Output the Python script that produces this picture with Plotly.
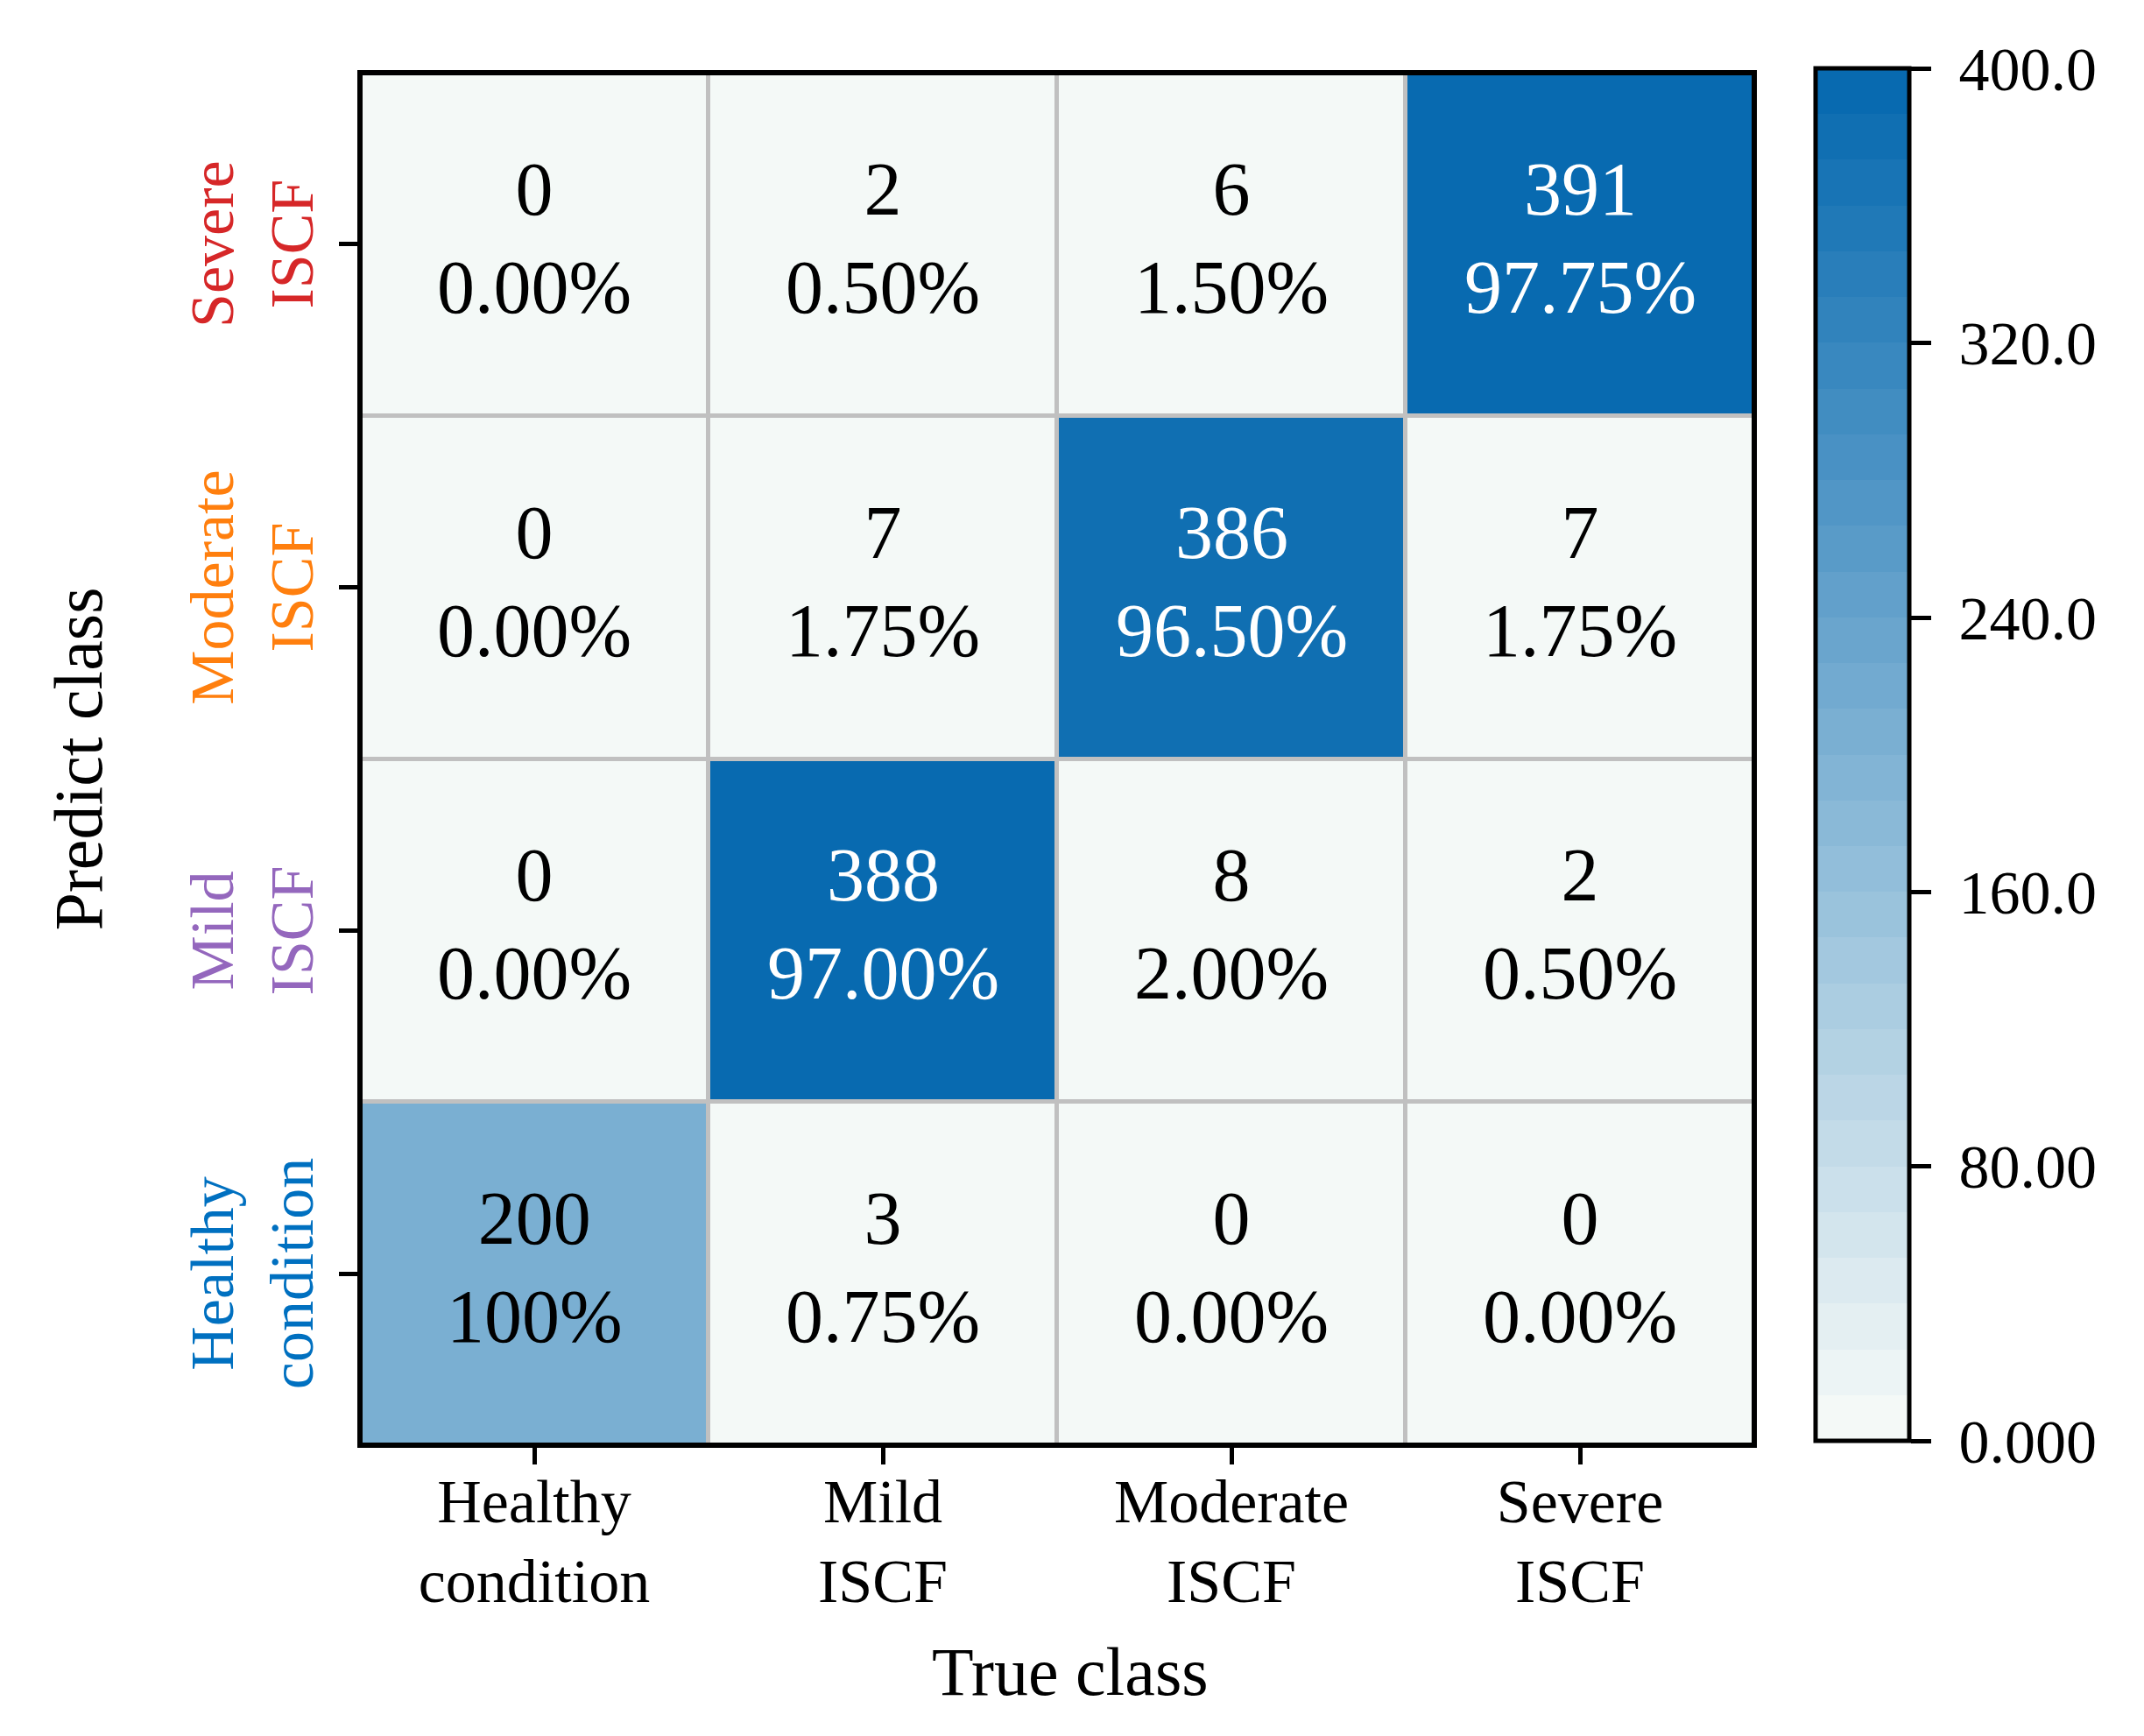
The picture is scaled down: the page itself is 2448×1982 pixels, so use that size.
import plotly.graph_objects as go

# confusion matrix: rows = predicted class (top to bottom), columns = true class
true_classes = ["Healthy<br>condition", "Mild<br>ISCF", "Moderate<br>ISCF", "Severe<br>ISCF"]
pred_classes = ["Severe<br>ISCF", "Moderate<br>ISCF", "Mild<br>ISCF", "Healthy<br>condition"]
pred_colors = ["#d62728", "#ff7f0e", "#9467bd", "#0070c0"]

counts = [
    [0, 2, 6, 391],
    [0, 7, 386, 7],
    [0, 388, 8, 2],
    [200, 3, 0, 0],
]
percents = [
    ["0.00%", "0.50%", "1.50%", "97.75%"],
    ["0.00%", "1.75%", "96.50%", "1.75%"],
    ["0.00%", "97.00%", "2.00%", "0.50%"],
    ["100%", "0.75%", "0.00%", "0.00%"],
]

cbar_vals = [0, 80, 160, 240, 320, 400]
cbar_text = ["0.000", "80.00", "160.0", "240.0", "320.0", "400.0"]

FONT = "Times New Roman, Liberation Serif, serif"
W, H = 2448, 1982
ML, MR, MT, MB = 403, 453, 75, 340

# 30-step colormap from pale mint to blue
light = (244, 249, 247)
dark = (8, 106, 176)
nband = 30
cscale = []
for i in range(nband):
    t = i / (nband - 1)
    c = tuple(round(light[k] + (dark[k] - light[k]) * t) for k in range(3))
    col = "rgb(%d,%d,%d)" % c
    cscale.append([i / nband, col])
    cscale.append([(i + 1) / nband, col])

idx = list(range(4))

fig = go.Figure()
fig.add_trace(go.Heatmap(
    z=counts, x=idx, y=idx,
    zmin=0, zmax=400,
    colorscale=cscale,
    xgap=5, ygap=5,
    hoverinfo="skip",
    colorbar=dict(
        x=1.044, xanchor="left", xpad=0,
        y=0.503, yanchor="middle", ypad=0,
        len=1.0, lenmode="fraction",
        thickness=107,
        outlinewidth=5, outlinecolor="black",
        ticks="outside", ticklen=23, tickwidth=4.5, tickcolor="black",
        tickvals=cbar_vals, ticktext=["\u00a0" + t for t in cbar_text],
        tickfont=dict(family=FONT, size=70, color="black"),
    ),
))

ann = []
for i in range(4):
    for j in range(4):
        v = counts[i][j]
        ann.append(dict(
            x=j, y=i, xref="x", yref="y", yshift=7,
            text="%d<br>%s" % (v, percents[i][j]),
            showarrow=False,
            font=dict(family=FONT, size=86, color="white" if v > 300 else "black"),
            align="center",
        ))

# coloured, rotated y tick labels
for i, (lab, col) in enumerate(zip(pred_classes, pred_colors)):
    ann.append(dict(
        x=0, y=i, xref="paper", yref="y",
        xanchor="center", yanchor="middle", xshift=-123,
        text=lab, textangle=-90, showarrow=False, align="center",
        font=dict(family=FONT, size=70, color=col),
    ))

ann.append(dict(
    x=0.5, y=0, xref="paper", yref="paper", xshift=15, yshift=-258,
    xanchor="center", yanchor="middle", text="True class", showarrow=False,
    font=dict(family=FONT, size=78, color="black"),
))
ann.append(dict(
    x=0, y=0.5, xref="paper", yref="paper", xshift=-322,
    xanchor="center", yanchor="middle", text="Predict class", textangle=-90,
    showarrow=False, font=dict(family=FONT, size=78, color="black"),
))

fig.update_layout(
    width=W, height=H,
    margin=dict(l=ML, r=MR, t=MT, b=MB),
    paper_bgcolor="white",
    plot_bgcolor="#c0c0c0",
    font=dict(family=FONT, color="black"),
    annotations=ann,
    shapes=[dict(type="rect", xref="paper", yref="paper", x0=0, x1=1, y0=0, y1=1,
                 line=dict(color="black", width=6), fillcolor="rgba(0,0,0,0)", layer="above")],
    xaxis=dict(
        range=[-0.5, 3.5], tickvals=idx, ticktext=true_classes,
        ticks="outside", ticklen=21, tickwidth=4.5, tickcolor="black",
        ticklabelstandoff=-18,
        tickfont=dict(family=FONT, size=70, color="black"),
        showgrid=False, zeroline=False, showline=False,
    ),
    yaxis=dict(
        range=[3.5, -0.5], tickvals=idx, ticktext=["", "", "", ""],
        ticks="outside", ticklen=23, tickwidth=4.5, tickcolor="black",
        showgrid=False, zeroline=False, showline=False,
    ),
)

fig.write_html("out.html", config={"displayModeBar": False})
